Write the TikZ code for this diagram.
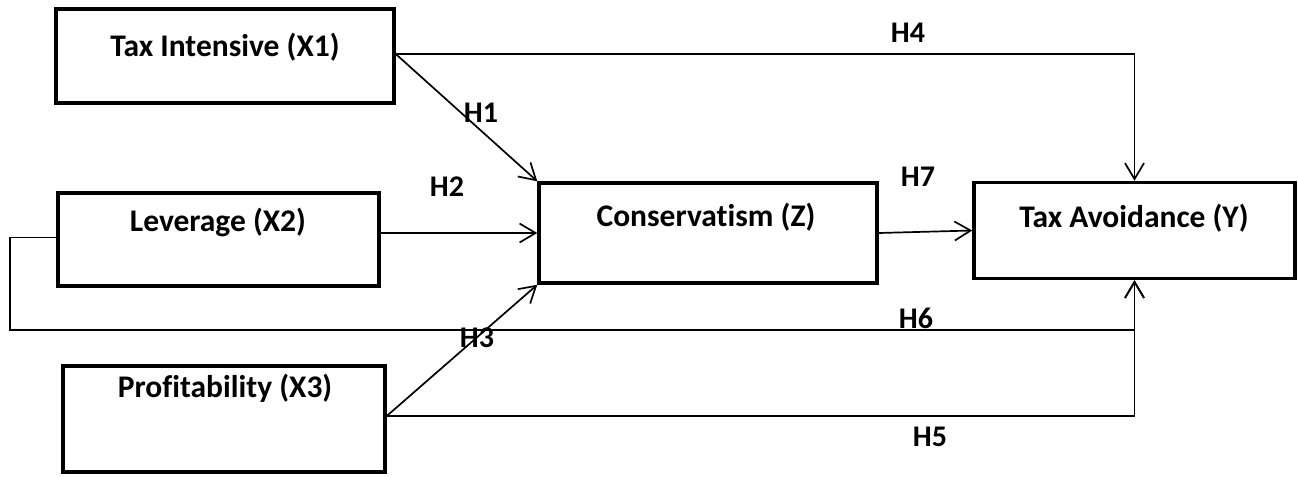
\documentclass[tikz,border=0pt]{standalone}
\usepackage{fontspec}
\setmainfont{Carlito}[Ligatures={NoCommon}]
\usetikzlibrary{arrows.meta}
\begin{document}
\begin{tikzpicture}[x=1pt,y=-1pt,
  box/.style={draw, line width=3.5pt, inner sep=0pt},
  txt/.style={font=\bfseries\fontsize{31.5}{36}\selectfont, inner sep=0pt},
  hlab/.style={font=\bfseries\fontsize{30}{34}\selectfont, inner sep=0pt},
  conn/.style={line width=1.7pt, -{Straight Barb[length=16pt,width=19pt]}},
  plain/.style={line width=1.7pt}]
\useasboundingbox (0,0) rectangle (1298,477);
% boxes
\node[box, minimum width=338pt, minimum height=94pt] (x1) at (225,56) {};
\node[box, minimum width=321pt, minimum height=93pt] (x2) at (218.5,239.5) {};
\node[box, minimum width=322pt, minimum height=106pt] (x3) at (224,419) {};
\node[box, minimum width=338pt, minimum height=100pt] (z) at (708,233) {};
\node[box, minimum width=321pt, minimum height=96pt] (y) at (1134.5,230.5) {};
% box texts
\node[txt] (x1t) at (225,47) {Tax Intensive (X1)};
\node[txt] (x2t) at (218,222) {Leverage (X2)};
\node[txt] (x3t) at (225,388) {Profitability (X3)};
\node[txt] (zt) at (706,217) {Conservatism (Z)};
\node[txt] (yt) at (1134,218) {Tax Avoidance (Y)};
% connectors
\coordinate (p1) at ([yshift=2pt]x1.east);
\coordinate (p3) at ([yshift=3pt]x3.east);
\coordinate (lb) at (10,330);
\draw[conn] (p1) -- (p1 -| y.north) -- (y.north);
\draw[conn] (p1) -- (z.north west);
\draw[conn] (x2.east |- z.west) -- (z.west);
\draw[conn] (p3) -- (z.south west);
\draw[conn] (p3) -- (p3 -| y.south) -- (y.south);
\draw[conn] ([yshift=2pt]x2.west) -- ([yshift=2pt]x2.west -| lb) -- (lb) -- (lb -| y.south) -- (y.south);
\draw[conn] (z.east) -- (y.west);
% hypothesis labels
\node[hlab] (h1) at (481,113) {H1};
\node[hlab] (h2) at (447,187) {H2};
\node[hlab] (h3) at (477,338) {H3};
\node[hlab] (h4) at (908,33) {H4};
\node[hlab] (h5) at (930,437) {H5};
\node[hlab] (h6) at (916,318) {H6};
\node[hlab] (h7) at (918,177) {H7};
\end{tikzpicture}
\end{document}
